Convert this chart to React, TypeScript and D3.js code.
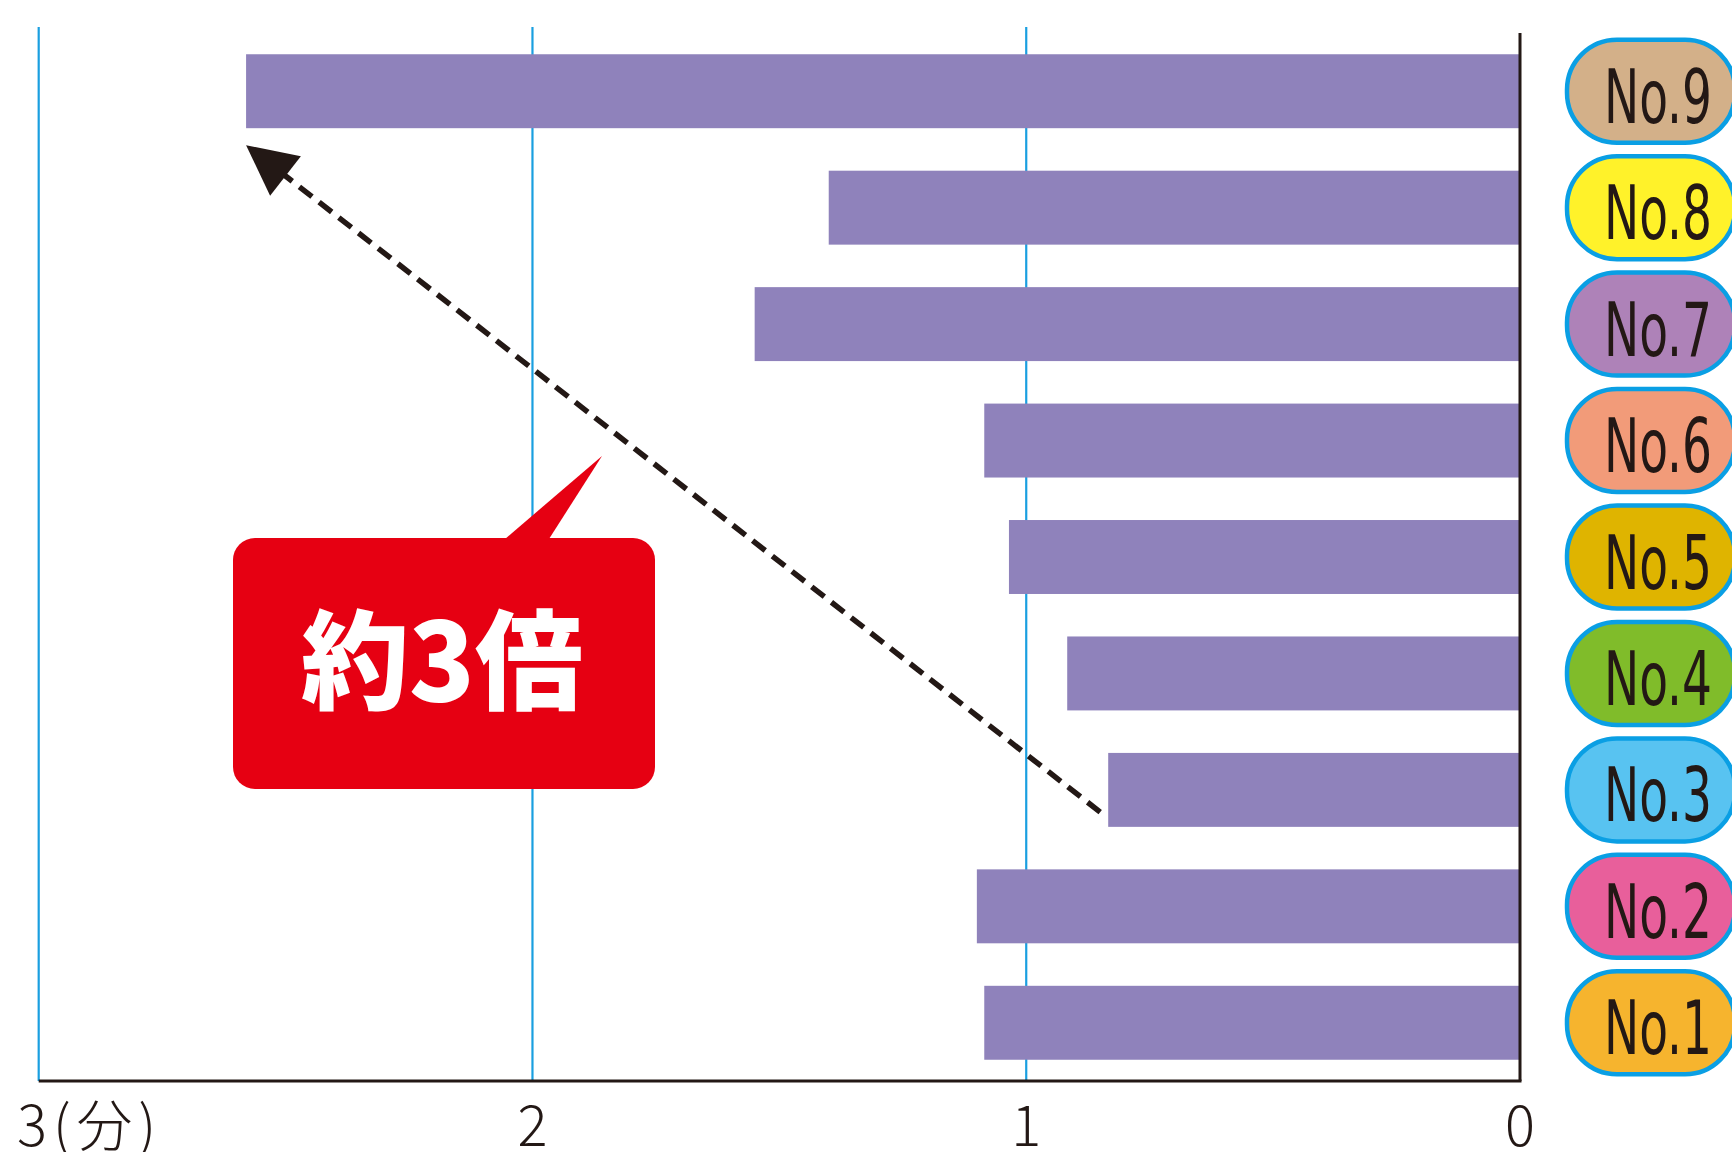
import React from "react";
import * as d3 from "d3";

const categories = ["No.9", "No.8", "No.7", "No.6", "No.5", "No.4", "No.3", "No.2", "No.1"];
const values = [2.58, 1.40, 1.55, 1.085, 1.035, 0.917, 0.834, 1.10, 1.085];
const pillColors = ["#d3b089", "#fff22a", "#ae82b8", "#f29b79", "#dfb400", "#80bc2a", "#58c3f1", "#e85f9b", "#f6b42e"];
const ticks = [3, 2, 1, 0];
const tickLabels = ["3(分)", "2", "1", "0"];
const calloutText = "約3倍";

const W = 1732;
const H = 1152;

export default function App() {
  const x = d3.scaleLinear().domain([0, 3]).range([1520, 38.7]);
  const y = d3
    .scaleBand<string>()
    .domain(categories)
    .range([33, 1081])
    .paddingInner(0.365)
    .paddingOuter(0.1825);

  const axisY = 1081;
  const dark = "#231815";
  const grid = "#1a9fe0";

  // arrow geometry (from bar No.3 toward bar No.9)
  const startX = x(values[6]) - 8;
  const startY = (y("No.3") as number) + y.bandwidth() * 0.8;
  const tipX = x(values[0]);
  const tipY = (y("No.9") as number) + y.bandwidth() + 17;
  const dx = startX - tipX;
  const dy = startY - tipY;
  const len = Math.sqrt(dx * dx + dy * dy);
  const ux = dx / len;
  const uy = dy / len;
  const headLen = 50;
  const headHalf = 25;
  const bx = tipX + ux * headLen;
  const by = tipY + uy * headLen;
  const head = [
    [tipX, tipY],
    [bx - uy * headHalf, by + ux * headHalf],
    [bx + uy * headHalf, by - ux * headHalf],
  ];

  return (
    <svg
      width={W}
      height={H}
      style={{ position: "absolute", left: 0, top: 0, background: "#fff" }}
    >
      {/* gridlines */}
      {ticks.slice(0, 3).map((t) => (
        <line key={"g" + t} x1={x(t)} x2={x(t)} y1={27} y2={axisY} stroke={grid} strokeWidth={2.2} />
      ))}
      {/* bars */}
      {categories.map((c, i) => (
        <rect
          key={c}
          x={x(values[i])}
          y={y(c)}
          width={x(0) - x(values[i])}
          height={y.bandwidth()}
          fill="#8f82bb"
        />
      ))}
      {/* axes */}
      <line x1={x(3)} x2={x(0) + 1.5} y1={axisY} y2={axisY} stroke={dark} strokeWidth={3} />
      <line x1={x(0)} x2={x(0)} y1={33} y2={axisY} stroke={dark} strokeWidth={3} />
      {/* tick labels */}
      {ticks.map((t, i) => (
        <text
          key={"t" + t}
          x={i === 0 ? 17 : x(t)}
          y={1146}
          textAnchor={i === 0 ? "start" : "middle"}
          fontFamily="'Noto Sans CJK JP', 'Noto Sans', sans-serif"
          fontWeight={300}
          fontSize={56}
          letterSpacing={i === 0 ? 6 : 0}
          fill={dark}
        >
          {tickLabels[i]}
        </text>
      ))}
      {/* category pills */}
      {categories.map((c, i) => {
        const cy = (y(c) as number) + y.bandwidth() / 2;
        return (
          <g key={"p" + c}>
            <rect
              x={1567}
              y={cy - 51.5}
              width={168}
              height={103}
              rx={50}
              ry={50}
              fill={pillColors[i]}
              stroke="#0a9fe4"
              strokeWidth={4.5}
            />
            <text
              x={1658}
              y={cy + 31.5}
              textAnchor="middle"
              fontFamily="'DejaVu Sans Condensed', Roboto, sans-serif"
              fontSize={74}
              textLength={108}
              lengthAdjust="spacingAndGlyphs"
              fill={dark}
            >
              {c}
            </text>
          </g>
        );
      })}
      {/* dashed arrow */}
      <line
        x1={startX}
        y1={startY}
        x2={bx - ux * 4}
        y2={by - uy * 4}
        stroke={dark}
        strokeWidth={5.5}
        strokeDasharray="16 9"
      />
      <polygon points={head.map((p) => p.join(",")).join(" ")} fill={dark} />
      {/* callout */}
      <path d="M505,539 L602,456 L549,539 Z" fill="#e60012" />
      <rect x={233} y={538} width={422} height={251} rx={22} ry={22} fill="#e60012" />
      <text
        x={442}
        y={701}
        textAnchor="middle"
        fontFamily="'Noto Sans CJK JP', sans-serif"
        fontWeight={900}
        fontSize={108}
        fill="#fff"
      >
        {calloutText}
      </text>
    </svg>
  );
}
